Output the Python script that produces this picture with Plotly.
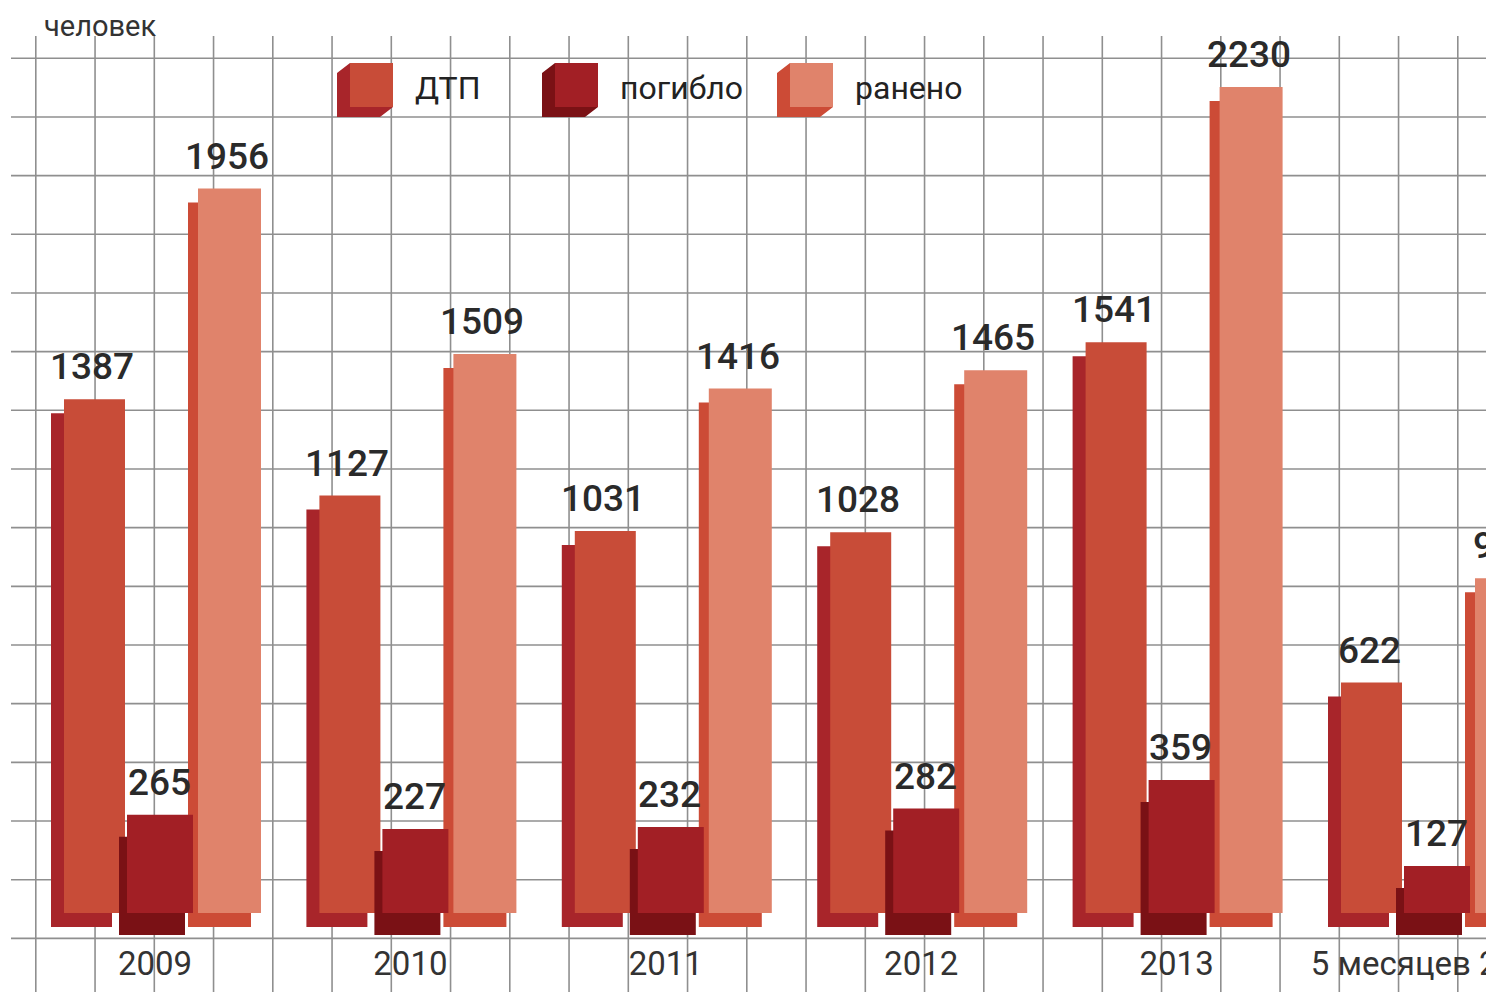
import plotly.graph_objects as go

# ---------------- data ----------------
categories = ["2009", "2010", "2011", "2012", "2013", "5 месяцев 2014"]
dtp = [1387, 1127, 1031, 1028, 1541, 622]          # ДТП
killed = [265, 227, 232, 282, 359, 127]            # погибло
injured = [1956, 1509, 1416, 1465, 2230, 904]      # ранено
series_names = ["ДТП", "погибло", "ранено"]
unit_label = "человек"

# ---------------- geometry (pixels) ----------------
W, H = 1486, 992
MB = 54                 # bottom margin (room for category labels)
PLOT_H = H - MB
GROUP_PX = 255.4        # distance between groups
X0_PX = 155             # pixel x of first group centre
BASE_PX = 913           # pixel y of value 0
K = 0.3704              # pixels per unit

x_range = [-X0_PX / GROUP_PX, (W - X0_PX) / GROUP_PX]
y_range = [(BASE_PX - PLOT_H) / K, BASE_PX / K]


def u(px):
    return px / GROUP_PX


def v(px):
    return px / K


def xp(px):
    return px / W


def yp(py):
    return (PLOT_H - py) / PLOT_H


# style per series: front left/right (px rel. to group centre), shadow dx, dy, colours, label dx
styles = {
    "ДТП":     dict(l=-91, r=-30, dx=-13, dy=14, front="#C84C38", side="#A8252A", ldx=-63),
    "погибло": dict(l=-28, r=38, dx=-8, dy=22, front="#A21F25", side="#7A1115", ldx=4),
    "ранено":  dict(l=43, r=106, dx=-10, dy=14, front="#E0836B", side="#CC4B36", ldx=72),
}
values = {"ДТП": dtp, "погибло": killed, "ранено": injured}

fig = go.Figure()
x = list(range(len(categories)))

for name in ["ДТП", "ранено", "погибло"]:
    st = styles[name]
    vals = values[name]
    # depth / side face (shifted copy)
    fig.add_bar(x=x, y=vals, base=-v(st["dy"]), offset=u(st["l"] + st["dx"]),
                width=u(st["r"] - st["l"]), marker=dict(color=st["side"], line=dict(width=0)),
                showlegend=False, hoverinfo="skip")
    # front face
    fig.add_bar(x=x, y=vals, base=0, offset=u(st["l"]), width=u(st["r"] - st["l"]),
                marker=dict(color=st["front"], line=dict(width=0)), name=name, showlegend=False)

annotations = []
for name in series_names:
    st = styles[name]
    for i, val in enumerate(values[name]):
        annotations.append(dict(
            x=i, y=val, xref="x", yref="y", xshift=st["ldx"], yshift=9,
            text=str(val), showarrow=False, xanchor="center", yanchor="bottom",
            font=dict(family="Roboto", size=37, color="#2a2a2a", weight=500)))

# grid lines (background paper grid)
shapes = []
GRID = "#8f8f8f"
for k in range(25):
    px = 35.8 + 59.25 * k
    shapes.append(dict(type="line", xref="paper", yref="paper", x0=xp(px), x1=xp(px),
                       y0=yp(36), y1=yp(H), line=dict(color=GRID, width=1.6), layer="below"))
for k in range(16):
    py = 58.3 + 58.67 * k
    shapes.append(dict(type="line", xref="paper", yref="paper", x0=xp(11), x1=xp(W),
                       y0=yp(py), y1=yp(py), line=dict(color=GRID, width=1.6), layer="below"))

# custom legend: cubes + labels
legend_items = [("ДТП", 350, 413), ("погибло", 555, 618), ("ранено", 790, 853)]
for name, fx, tx in legend_items:
    st = styles[name]
    fx1, fy0, fy1 = fx + 43, 63, 107
    path = (f"M {xp(fx)},{yp(fy0)} L {xp(fx-13)},{yp(fy0+10)} L {xp(fx-13)},{yp(fy1+10)} "
            f"L {xp(fx1-13)},{yp(fy1+10)} L {xp(fx1)},{yp(fy1)} L {xp(fx)},{yp(fy1)} Z")
    shapes.append(dict(type="path", xref="paper", yref="paper", path=path,
                       fillcolor=st["side"], line=dict(width=0), layer="above"))
    shapes.append(dict(type="rect", xref="paper", yref="paper", x0=xp(fx), x1=xp(fx1),
                       y0=yp(fy1), y1=yp(fy0), fillcolor=st["front"], line=dict(width=0),
                       layer="above"))
    annotations.append(dict(x=xp(tx), y=yp(88), xref="paper", yref="paper", text=name,
                            showarrow=False, xanchor="left", yanchor="middle",
                            font=dict(family="Roboto", size=32, color="#222222")))

annotations.append(dict(x=xp(42), y=yp(26), xref="paper", yref="paper", text=unit_label,
                        showarrow=False, xanchor="left", yanchor="middle",
                        font=dict(family="Roboto", size=29, color="#333333")))

fig.update_layout(
    width=W, height=H,
    margin=dict(l=0, r=0, t=0, b=MB, pad=0),
    paper_bgcolor="white", plot_bgcolor="rgba(0,0,0,0)",
    barmode="overlay", showlegend=False,
    shapes=shapes, annotations=annotations,
    xaxis=dict(range=x_range, tickvals=x, ticktext=categories, showgrid=False,
               zeroline=False, showline=False, ticks="", automargin=False,
               ticklabeloverflow="allow", ticklabelstandoff=3,
               tickfont=dict(family="Roboto", size=33, color="#333333"),
               fixedrange=True),
    yaxis=dict(range=y_range, showgrid=False, zeroline=False, showline=False,
               showticklabels=False, ticks="", automargin=False, fixedrange=True),
)

fig.write_html(
    "out.html",
    config={"displayModeBar": False},
    post_script="document.body.style.margin='0';document.body.style.overflow='hidden';",
)
